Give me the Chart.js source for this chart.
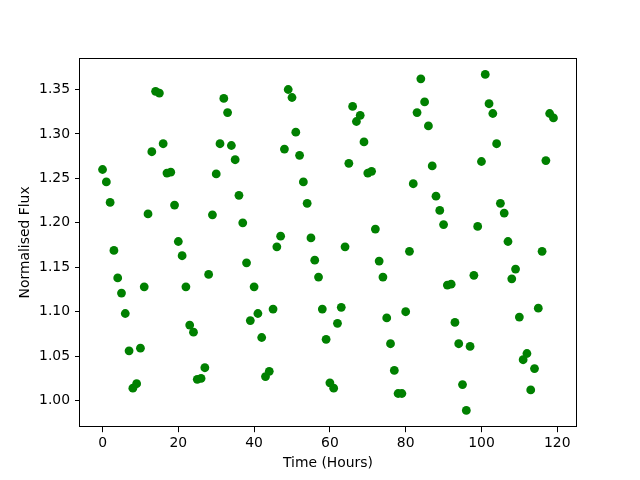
<!DOCTYPE html>
<html>
<head>
<meta charset="utf-8">
<script src="https://cdn.jsdelivr.net/npm/chart.js@4"></script>
<style>
  html, body { margin: 0; padding: 0; background: #ffffff; }
  #wrap { width: 640px; height: 480px; }
</style>
</head>
<body>
<div id="wrap"><canvas id="c" width="640" height="480"></canvas></div>
<script>
// Time in hours (one sample per hour)
const hours = [];
for (let i = 0; i < 120; i++) hours.push(i);

// Normalised flux values
const flux = [
  1.260, 1.246, 1.223, 1.169, 1.138, 1.121, 1.098, 1.056, 1.014, 1.019,
  1.059, 1.128, 1.210, 1.280, 1.348, 1.346, 1.289, 1.256, 1.257, 1.220,
  1.179, 1.163, 1.128, 1.085, 1.077, 1.024, 1.025, 1.037, 1.142, 1.209,
  1.255, 1.289, 1.340, 1.324, 1.287, 1.271, 1.231, 1.200, 1.155, 1.090,
  1.128, 1.098, 1.071, 1.027, 1.033, 1.103, 1.173, 1.185, 1.283, 1.350,
  1.341, 1.302, 1.276, 1.246, 1.222, 1.183, 1.158, 1.139, 1.103, 1.069,
  1.020, 1.014, 1.087, 1.105, 1.173, 1.267, 1.331, 1.314, 1.321, 1.291,
  1.256, 1.258, 1.193, 1.157, 1.139, 1.093, 1.064, 1.034, 1.008, 1.008,
  1.100, 1.168, 1.244, 1.324, 1.362, 1.336, 1.309, 1.264, 1.230, 1.214,
  1.198, 1.130, 1.131, 1.088, 1.064, 1.018, 0.989, 1.061, 1.141, 1.196,
  1.269, 1.367, 1.334, 1.323, 1.289, 1.222, 1.211, 1.179, 1.137, 1.148,
  1.094, 1.046, 1.053, 1.012, 1.036, 1.104, 1.168, 1.270, 1.323, 1.318
];

// Tick labels
const xTicks = [0, 20, 40, 60, 80, 100, 120];
const yTicks = [1.00, 1.05, 1.10, 1.15, 1.20, 1.25, 1.30, 1.35];

const xLabel = 'Time (Hours)';
const yLabel = 'Normalised Flux';

// matplotlib-style 5% margins
const xMinD = Math.min(...hours), xMaxD = Math.max(...hours);
const yMinD = Math.min(...flux), yMaxD = Math.max(...flux);
const xPad = (xMaxD - xMinD) * 0.05, yPad = (yMaxD - yMinD) * 0.05;

const points = hours.map((h, i) => ({ x: h, y: flux[i] }));

const FONT = { family: 'DejaVu Sans', size: 13.9 };

const bgPlugin = {
  id: 'bg',
  beforeDraw(chart) {
    const ctx = chart.ctx;
    ctx.save();
    ctx.fillStyle = '#ffffff';
    ctx.fillRect(0, 0, chart.width, chart.height);
    ctx.restore();
  }
};
const framePlugin = {
  id: 'frame',
  afterDatasetsDraw(chart) {
    const { left, top, right, bottom } = chart.chartArea;
    const ctx = chart.ctx;
    ctx.save();
    ctx.strokeStyle = '#000000';
    ctx.lineWidth = 1;
    ctx.strokeRect(Math.round(left) - 0.5, Math.round(top) + 0.5,
                   Math.round(right) - Math.round(left) + 1, Math.round(bottom) - Math.round(top) - 1);
    ctx.restore();
  }
};

new Chart(document.getElementById('c'), {
  type: 'scatter',
  data: {
    datasets: [{
      data: points,
      backgroundColor: '#008000',
      borderColor: '#008000',
      borderWidth: 0,
      pointRadius: 4.4,
      pointHoverRadius: 4.4
    }]
  },
  options: {
    responsive: false,
    animation: false,
    devicePixelRatio: 1,
    layout: { padding: { top: 57.6, right: 64, left: 0, bottom: 0 } },
    plugins: { legend: { display: false }, tooltip: { enabled: false } },
    scales: {
      x: {
        type: 'linear',
        min: xMinD - xPad,
        max: xMaxD + xPad,
        afterBuildTicks(scale) { scale.ticks = xTicks.map(v => ({ value: v })); },
        afterFit(scale) { scale.height = 52.8; },
        grid: { drawOnChartArea: false, drawTicks: true, tickLength: 5, color: '#000000', tickWidth: 1 },
        border: { display: false },
        ticks: { color: '#000000', font: FONT, padding: 3, maxRotation: 0, autoSkip: false,
                 callback: v => String(v) },
        title: { display: true, text: xLabel, color: '#000000', font: FONT, padding: { top: 0, bottom: 8.6 } }
      },
      y: {
        type: 'linear',
        min: yMinD - yPad,
        max: yMaxD + yPad,
        afterBuildTicks(scale) { scale.ticks = yTicks.map(v => ({ value: v })); },
        afterFit(scale) { scale.width = 80; },
        grid: { drawOnChartArea: false, drawTicks: true, tickLength: 5, color: '#000000', tickWidth: 1 },
        border: { display: false },
        ticks: { color: '#000000', font: FONT, padding: 5, autoSkip: false,
                 callback: v => Number(v).toFixed(2) },
        title: { display: true, text: yLabel, color: '#000000', font: FONT, padding: { top: 17.5, bottom: 0 } }
      }
    }
  },
  plugins: [bgPlugin, framePlugin]
});
</script>
</body>
</html>
